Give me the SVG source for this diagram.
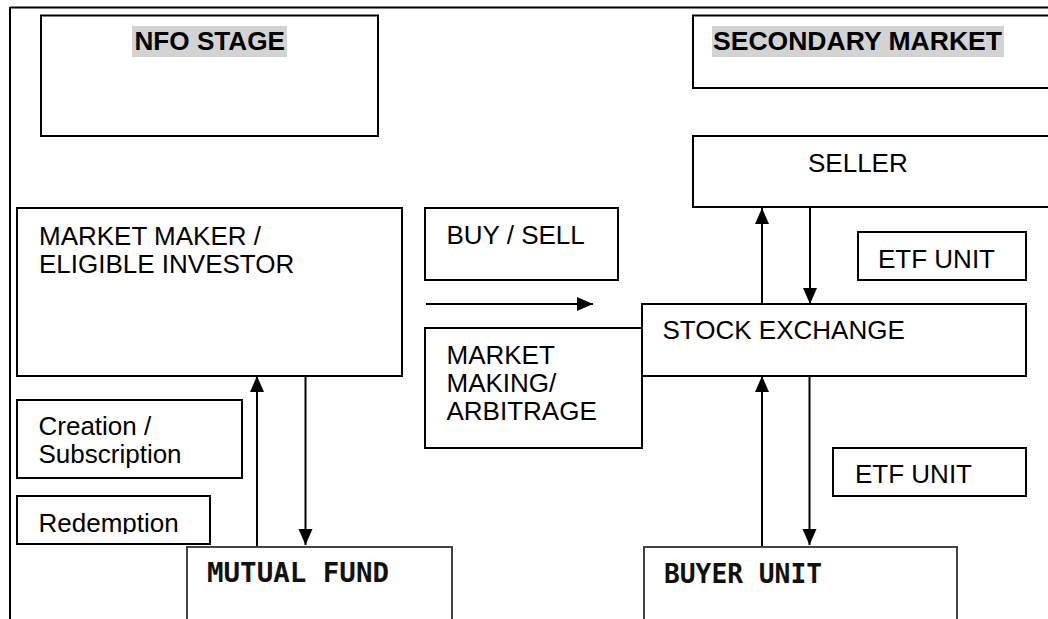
<svg xmlns="http://www.w3.org/2000/svg" width="1048" height="619" viewBox="0 0 1048 619">
<style>
.bx{fill:#fff;stroke:#000;stroke-width:2}
.bx2{fill:#fff;stroke:#444;stroke-width:2}
.t{font-family:"Liberation Sans",Arial,sans-serif;font-size:26px;fill:#000}
.tb{font-family:"Liberation Sans",Arial,sans-serif;font-size:26px;font-weight:bold;fill:#000}
.tm{font-family:"DejaVu Sans Mono","Liberation Mono",monospace;font-size:26px;font-weight:bold;fill:#111}
.hl{fill:#d3d3d3}
.ln{stroke:#000;stroke-width:2;fill:none}
</style>
<defs>
<marker id="ah" markerUnits="userSpaceOnUse" markerWidth="16" markerHeight="16" viewBox="0 0 16 16" refX="16" refY="8" orient="auto">
<path d="M0,1 L16,8 L0,15 Z" fill="#000"/>
</marker>
<clipPath id="redclip"><rect x="17" y="496" width="193" height="38"/></clipPath>
</defs>
<rect width="1048" height="619" fill="#fff"/>
<g id="frame">
<line x1="10" y1="7.5" x2="1048" y2="7.5" class="ln"/>
<line x1="10" y1="7" x2="10" y2="619" class="ln"/>
</g>
<g id="nfo-stage">
<rect x="41" y="15.5" width="337" height="120.5" class="bx"/>
<rect x="132" y="26" width="155" height="31" class="hl"/>
<text x="134.5" y="50" class="tb" textLength="150.5" lengthAdjust="spacingAndGlyphs">NFO STAGE</text>
</g>
<g id="secondary-market">
<rect x="693" y="15.5" width="370" height="72.5" class="bx"/>
<rect x="712" y="26" width="292" height="31" class="hl"/>
<text x="713" y="50" class="tb" textLength="289" lengthAdjust="spacingAndGlyphs">SECONDARY MARKET</text>
</g>
<g id="seller">
<rect x="693" y="136" width="370" height="71" class="bx"/>
<text x="808" y="172" class="t">SELLER</text>
</g>
<g id="market-maker">
<rect x="17" y="208" width="385" height="168" class="bx"/>
<text x="39" y="245" class="t">MARKET MAKER /</text>
<text x="39" y="273" class="t">ELIGIBLE INVESTOR</text>
</g>
<g id="buy-sell">
<rect x="425" y="208" width="193" height="72" class="bx"/>
<text x="446.5" y="244" class="t">BUY / SELL</text>
</g>
<g id="etf-unit-top">
<rect x="858" y="232" width="168" height="48" class="bx"/>
<text x="878" y="268" class="t">ETF UNIT</text>
</g>
<g id="stock-exchange">
<rect x="642" y="304" width="384" height="72" class="bx"/>
<text x="662.5" y="339" class="t">STOCK EXCHANGE</text>
</g>
<g id="market-making">
<rect x="425" y="328" width="217" height="120" class="bx"/>
<text x="446.5" y="364" class="t">MARKET</text>
<text x="446.5" y="392" class="t">MAKING/</text>
<text x="446.5" y="420" class="t">ARBITRAGE</text>
</g>
<g id="creation">
<rect x="17" y="400" width="225" height="78" class="bx"/>
<text x="38.5" y="435" class="t">Creation /</text>
<text x="38.5" y="463" class="t">Subscription</text>
</g>
<g id="redemption">
<rect x="17" y="496" width="193" height="48" class="bx"/>
<text x="38.5" y="531.5" class="t" clip-path="url(#redclip)">Redemption</text>
</g>
<g id="etf-unit-bottom">
<rect x="833" y="448" width="193" height="48" class="bx"/>
<text x="855" y="483" class="t">ETF UNIT</text>
</g>
<g id="mutual-fund">
<rect x="187" y="547" width="265" height="100" class="bx2"/>
<text x="207" y="582" class="tm" textLength="182" lengthAdjust="spacingAndGlyphs">MUTUAL FUND</text>
</g>
<g id="buyer-unit">
<rect x="644" y="547" width="313" height="100" class="bx2"/>
<text x="664" y="582.5" class="tm" textLength="158" lengthAdjust="spacingAndGlyphs">BUYER UNIT</text>
</g>
<g id="connectors">
<line x1="426" y1="304" x2="593" y2="304" class="ln" marker-end="url(#ah)"/>
<line x1="257" y1="546" x2="257" y2="376" class="ln" marker-end="url(#ah)"/>
<line x1="305.5" y1="376" x2="305.5" y2="545" class="ln" marker-end="url(#ah)"/>
<line x1="762" y1="304" x2="762" y2="208" class="ln" marker-end="url(#ah)"/>
<line x1="810" y1="207" x2="810" y2="304" class="ln" marker-end="url(#ah)"/>
<line x1="762" y1="546" x2="762" y2="376" class="ln" marker-end="url(#ah)"/>
<line x1="809.5" y1="376" x2="809.5" y2="545" class="ln" marker-end="url(#ah)"/>
</g>
</svg>
